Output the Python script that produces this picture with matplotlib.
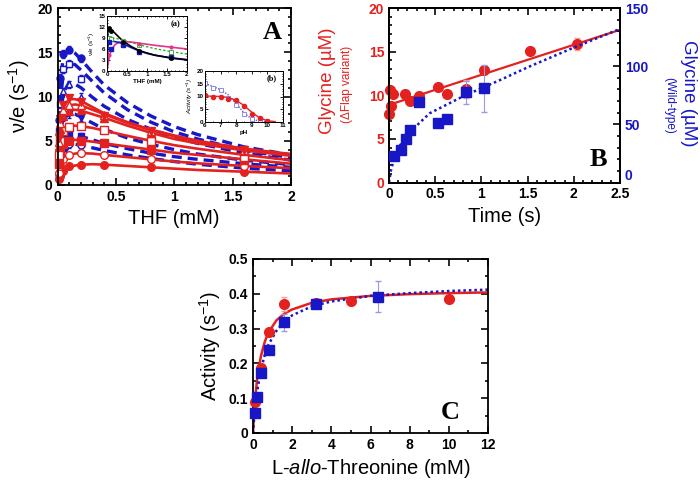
import matplotlib
matplotlib.use('Agg')
import matplotlib.pyplot as plt
from matplotlib.ticker import AutoMinorLocator

plt.rcParams['font.family'] = ['Liberation Sans', 'DejaVu Sans']
plt.rcParams['mathtext.fontset'] = 'custom'
plt.rcParams['mathtext.rm'] = 'Liberation Sans'
plt.rcParams['mathtext.it'] = 'Liberation Sans:italic'
plt.rcParams['mathtext.bf'] = 'Liberation Sans:bold'

RED = '#e3221f'
BLUE = '#1717c8'

# ---- panel A : THF dependence ----
thf_pts = [0.0125, 0.025, 0.05, 0.1, 0.2, 0.4, 0.8, 1.6]
thf_fit = [0, 0.0125, 0.025, 0.05, 0.1, 0.15, 0.2, 0.3, 0.4, 0.6, 0.8, 1.0, 1.2, 1.6, 2.0]

red_v1 = [0.7, 1.0, 1.6, 2.1, 2.3, 2.3, 2.0, 1.5]
red_v2 = [1.3, 2.1, 2.9, 3.4, 3.6, 3.4, 2.9, 2.1]
red_v3 = [2.4, 3.6, 4.6, 5.0, 5.0, 4.7, 4.0, 2.8]
red_v4 = [3.4, 5.0, 6.1, 6.6, 6.7, 6.2, 5.0, 3.2]
red_v5 = [4.4, 6.3, 7.8, 8.4, 8.5, 7.6, 5.9, 3.8]
red_v6 = [4.9, 7.0, 8.5, 9.0, 9.0, 7.9, 6.1, 3.9]
red_v7 = [5.3, 7.5, 9.0, 9.8, 9.4, 7.8, 6.1, 4.0]

red_fit1 = [0, 0.6, 1.0, 1.5, 2.0, 2.2, 2.3, 2.35, 2.3, 2.15, 2.0, 1.85, 1.7, 1.5, 1.3]
red_fit2 = [0, 1.2, 2.0, 2.8, 3.35, 3.55, 3.6, 3.55, 3.4, 3.15, 2.9, 2.65, 2.45, 2.15, 1.9]
red_fit3 = [0, 2.3, 3.5, 4.5, 5.0, 5.1, 5.05, 4.9, 4.7, 4.35, 4.0, 3.65, 3.4, 2.9, 2.4]
red_fit4 = [0, 3.2, 4.8, 6.0, 6.6, 6.7, 6.65, 6.45, 6.15, 5.55, 5.0, 4.5, 4.1, 3.4, 2.8]
red_fit5 = [0, 4.2, 6.2, 7.7, 8.4, 8.5, 8.4, 8.0, 7.6, 6.7, 5.9, 5.2, 4.7, 3.9, 3.3]
red_fit6 = [0, 4.7, 6.8, 8.3, 9.0, 9.1, 9.0, 8.5, 8.0, 7.0, 6.2, 5.5, 4.9, 4.05, 3.4]
red_fit7 = [0, 5.1, 7.3, 8.9, 9.7, 9.7, 9.5, 8.8, 8.1, 7.1, 6.25, 5.6, 5.0, 4.1, 3.5]

blue_pts = [0.0125, 0.025, 0.05, 0.1, 0.2]
blue_v1 = [7.4, 12.1, 14.8, 15.3, 14.3]
blue_v2 = [6.1, 9.1, 13.1, 13.7, 12.0]
blue_v3 = [4.9, 7.4, 10.6, 11.4, 10.0]
blue_v4 = [3.8, 6.1, 7.6, 8.0, 7.6]
blue_v5 = [2.6, 4.4, 5.4, 5.8, 5.5]
blue_v6 = [1.1, 2.2, 3.5, 4.6, 4.5]

blue_fit1 = [0, 7.6, 11.6, 14.6, 15.3, 14.9, 14.2, 12.7, 11.3, 9.3, 7.8, 6.6, 5.7, 4.3, 3.4]
blue_fit2 = [0, 6.0, 9.5, 12.7, 13.8, 13.6, 13.0, 11.7, 10.4, 8.5, 7.1, 6.0, 5.2, 3.9, 3.1]
blue_fit3 = [0, 4.8, 7.7, 10.4, 11.6, 11.4, 11.0, 9.9, 8.9, 7.4, 6.3, 5.4, 4.7, 3.6, 2.8]
blue_fit4 = [0, 3.6, 5.8, 7.4, 8.1, 8.0, 7.7, 7.0, 6.3, 5.3, 4.6, 4.0, 3.5, 2.8, 2.3]
blue_fit5 = [0, 2.5, 4.1, 5.3, 5.8, 5.7, 5.5, 5.1, 4.7, 4.1, 3.6, 3.2, 2.9, 2.4, 2.0]
blue_fit6 = [0, 1.2, 2.2, 3.4, 4.4, 4.6, 4.5, 4.2, 3.9, 3.4, 3.0, 2.65, 2.35, 1.9, 1.6]

# inset (a)
ia_fit_x = [0, 0.02, 0.05, 0.1, 0.2, 0.3, 0.4, 0.6, 0.8, 1.0, 1.2, 1.6, 2.0]
ia_black = [0, 10.5, 11.6, 11.4, 10.3, 9.2, 8.2, 6.7, 5.6, 4.9, 4.3, 3.6, 3.1]
ia_blue = [0, 7.0, 8.0, 8.2, 8.0, 7.8, 7.4, 6.4, 5.5, 4.8, 4.3, 3.5, 3.0]
ia_magenta = [0, 1.5, 3.5, 5.5, 7.2, 7.8, 8.0, 7.9, 7.6, 7.3, 7.0, 6.5, 6.0]
ia_green = [0, 6.0, 8.5, 9.0, 8.9, 8.7, 8.4, 7.8, 7.2, 6.6, 6.1, 5.3, 4.6]
ia_pts_x = [0.05, 0.1, 0.4, 0.8, 1.6]
ia_black_pts = [11.8, 11.0, 8.0, 5.4, 3.6]
ia_blue_pts = [8.0, 6.0, 7.0, 5.3, 3.8]
ia_magenta_pts = [4.5, 6.0, 7.9, 7.5, 6.5]
ia_green_pts = [9.0, 8.8, 8.3, 7.2, 5.2]

# inset (b)
ph_pts = [6, 6.5, 7, 7.5, 8, 8.5, 9, 9.5, 10]
ph_red = [10.4, 10.0, 10.0, 9.0, 8.5, 6.4, 3.3, 1.7, 0.5]
ph_blue = [15.3, 13.5, 12.5, 9.5, 6.5, 3.0, 1.0, 0.4, 0.2]
ph_fit = [6, 6.5, 7, 7.5, 8, 8.5, 9, 9.5, 10, 10.5]
ph_red_fit = [10.2, 10.1, 10.0, 9.6, 8.5, 6.5, 3.8, 1.6, 0.5, 0.15]
ph_blue_fit = [15.0, 14.0, 12.6, 10.6, 7.2, 3.6, 1.2, 0.3, 0.05, 0.0]

# ---- panel B : time course ----
t_red = [0.0, 0.01, 0.02, 0.04, 0.175, 0.225, 0.33, 0.53, 0.63, 0.83, 1.03, 1.53, 2.03]
gly_red = [7.8, 10.6, 8.8, 10.1, 10.2, 9.3, 9.9, 11.0, 10.1, 10.7, 12.9, 15.1, 15.9]
gly_red_err = [0.3, 0.3, 0.3, 0.3, 0.3, 0.3, 0.3, 0.4, 0.3, 1.0, 0.4, 0.3, 0.7]
t_blue = [0.057, 0.13, 0.18, 0.23, 0.33, 0.53, 0.63, 0.83, 1.03]
gly_blue = [23, 28, 37, 45.5, 69.5, 51, 54.5, 77.5, 81]
gly_blue_err = [1, 1, 2, 2, 2, 3, 2, 10, 20]
t_red_fit = [0, 2.5]
gly_red_fit = [8.9, 17.5]
t_blue_fit = [0, 0.02, 0.06, 0.12, 0.23, 0.44, 0.8, 1.2, 1.5, 2.0, 2.5]
gly_blue_fit = [0, 10, 22, 32, 43.7, 59.5, 74, 88, 99, 116, 132]

# ---- panel C : L-allo-threonine ----
thr_red = [0.1, 0.2, 0.4, 0.8, 1.6, 3.2, 5.0, 10.0]
act_red = [0.088, 0.104, 0.186, 0.291, 0.372, 0.374, 0.379, 0.386]
act_red_err = [0.005, 0.005, 0.008, 0.008, 0.02, 0.01, 0.01, 0.005]
thr_blue = [0.1, 0.2, 0.4, 0.8, 1.6, 3.2, 6.4]
act_blue = [0.058, 0.104, 0.171, 0.238, 0.318, 0.37, 0.392]
act_blue_err = [0.005, 0.005, 0.01, 0.008, 0.025, 0.012, 0.045]
thr_fit = [0, 0.05, 0.1, 0.2, 0.4, 0.6, 0.8, 1.2, 1.6, 2, 3, 4, 6, 8, 10, 12]
act_red_fit = [0, 0.053, 0.091, 0.150, 0.22, 0.262, 0.29, 0.324, 0.343, 0.355, 0.374, 0.384, 0.394, 0.399, 0.402, 0.404]
act_blue_fit = [0, 0.036, 0.066, 0.115, 0.181, 0.224, 0.255, 0.294, 0.32, 0.338, 0.364, 0.378, 0.394, 0.402, 0.408, 0.412]

# tick labels
a_xt = [0, 0.5, 1, 1.5, 2]
a_xl = ['0', '0.5', '1', '1.5', '2']
a_yt = [0, 5, 10, 15, 20]
b_xt = [0, 0.5, 1, 1.5, 2, 2.5]
b_xl = ['0', '0.5', '1', '1.5', '2', '2.5']
b_yt = [0, 5, 10, 15, 20]
b_yt2 = [0, 50, 100, 150]
c_xt = [0, 2, 4, 6, 8, 10, 12]
c_yt = [0, 0.1, 0.2, 0.3, 0.4, 0.5]
c_yl = ['0', '0.1', '0.2', '0.3', '0.4', '0.5']
ia_yt = [0, 3, 6, 9, 12, 15]
ib_xt = [6, 7, 8, 9, 10, 11]
ib_yt = [0, 5, 10, 15, 20]


def style(ax, minx, miny, fs=10, maj=5, mnr=2.5, lw=1.3):
    ax.xaxis.set_minor_locator(AutoMinorLocator(minx))
    ax.yaxis.set_minor_locator(AutoMinorLocator(miny))
    ax.tick_params(which='both', direction='in', top=True, right=True,
                   width=lw * 0.9, labelsize=fs)
    ax.tick_params(which='major', length=maj)
    ax.tick_params(which='minor', length=mnr)
    for s in ax.spines.values():
        s.set_linewidth(lw)
    for lab in ax.get_xticklabels() + ax.get_yticklabels():
        lab.set_fontweight('bold')


fig = plt.figure(figsize=(7, 4.82), dpi=100)
W, H = 700, 482


def box(x0, y0, x1, y1):
    return [x0 / W, 1 - y1 / H, (x1 - x0) / W, (y1 - y0) / H]


# ===== panel A =====
axA = fig.add_axes(box(57.5, 8, 291, 185))
blue_fits = [blue_fit1, blue_fit2, blue_fit3, blue_fit4, blue_fit5, blue_fit6]
blue_vals = [blue_v1, blue_v2, blue_v3, blue_v4, blue_v5, blue_v6]
blue_mk = ['o', 's', '^', 'v', 's', 'o']
blue_fill = [True, False, False, True, True, False]
for f in blue_fits:
    axA.plot(thf_fit, f, color=BLUE, lw=2.4, ls=(0, (3, 1.8)))
for v, m, fl in zip(blue_vals, blue_mk, blue_fill):
    axA.errorbar(blue_pts, v, yerr=0.4, fmt=m, ms=5, color=BLUE,
                 mfc=BLUE if fl else 'white', mec=BLUE, mew=1,
                 ecolor=BLUE, elinewidth=0.8, capsize=1.5, clip_on=False)

red_fits = [red_fit1, red_fit2, red_fit3, red_fit4, red_fit5, red_fit6, red_fit7]
red_vals = [red_v1, red_v2, red_v3, red_v4, red_v5, red_v6, red_v7]
red_mk = ['o', 'o', 's', 's', '^', '^', 'v']
red_fill = [True, False, True, False, True, False, True]
for f in red_fits:
    axA.plot(thf_fit, f, color=RED, lw=1.9)
for v, m, fl in zip(red_vals, red_mk, red_fill):
    axA.errorbar(thf_pts, v, yerr=0.25, fmt=m, ms=5.5, color=RED,
                 mfc=RED if fl else 'white', mec=RED, mew=1,
                 ecolor='#f08080', elinewidth=0.8, capsize=1.5, clip_on=False)

axA.set_xlim(0, 2)
axA.set_ylim(0, 20)
axA.set_xticks(a_xt, a_xl)
axA.set_yticks(a_yt)
style(axA, 5, 5)
axA.set_xlabel('THF (mM)', fontsize=14.5)
axA.set_ylabel('ν/e (s$^{-1}$)', fontsize=14.5, labelpad=4)
axA.text(0.92, 0.86, 'A', transform=axA.transAxes, fontsize=19,
         fontweight='bold', family='Liberation Serif', ha='center', va='center')

# inset (a)
insA = fig.add_axes(box(107, 16, 187, 71))
insA.plot(ia_fit_x, ia_green, color='#22aa22', lw=0.9, ls=(0, (2, 1.5)))
insA.plot(ia_fit_x, ia_magenta, color='#e8308c', lw=1.2)
insA.plot(ia_fit_x, ia_blue, color=BLUE, lw=1.2)
insA.plot(ia_fit_x, ia_black, color='black', lw=1.2)
insA.plot(ia_pts_x, ia_green_pts, 's', ms=2.5, mfc='white', mec='#22aa22', mew=0.6)
insA.plot(ia_pts_x, ia_magenta_pts, 'o', ms=2, color='#e8308c')
insA.plot(ia_pts_x, ia_blue_pts, 's', ms=3, color=BLUE)
insA.plot(ia_pts_x, ia_black_pts, 'o', ms=2.5, color='black')
insA.set_xlim(0, 2)
insA.set_ylim(0, 15)
insA.set_xticks(a_xt, a_xl)
insA.set_yticks(ia_yt)
style(insA, 5, 3, fs=4.5, maj=2, mnr=1, lw=0.7)
insA.tick_params(pad=1)
insA.set_xlabel('THF (mM)', fontsize=4.5, fontweight='bold', labelpad=1)
insA.set_ylabel('ν/e (s$^{-1}$)', fontsize=4.5, labelpad=1)
insA.text(0.86, 0.85, '(a)', transform=insA.transAxes, fontsize=6,
          fontweight='bold', family='Liberation Serif', ha='center', va='center')

# inset (b)
insB = fig.add_axes(box(205, 71, 283, 122))
insB.plot(ph_fit, ph_blue_fit, color='#5a5ae0', lw=1.0, ls=(0, (1, 1)))
insB.plot(ph_fit, ph_red_fit, color=RED, lw=1.0)
insB.plot(ph_pts, ph_blue, 's', ms=3, mfc='white', mec='#7a7ae8', mew=0.6)
insB.plot(ph_pts, ph_red, 'o', ms=3, color=RED)
insB.set_xlim(6, 11)
insB.set_ylim(0, 20)
insB.set_xticks(ib_xt)
insB.set_yticks(ib_yt)
style(insB, 2, 5, fs=4.5, maj=2, mnr=1, lw=0.7)
insB.tick_params(pad=1)
insB.set_xlabel('pH', fontsize=4.5, fontweight='bold', labelpad=1)
insB.set_ylabel('Activity (s$^{-1}$)', fontsize=4.5, style='italic', labelpad=1)
insB.text(0.86, 0.85, '(b)', transform=insB.transAxes, fontsize=6,
          fontweight='bold', family='Liberation Serif', ha='center', va='center')

# ===== panel B =====
axB = fig.add_axes(box(389, 8, 620, 182.5))
axB2 = axB.twinx()
axB.plot(t_red_fit, gly_red_fit, color=RED, lw=1.6)
axB.errorbar(t_red, gly_red, yerr=gly_red_err, fmt='o', ms=7, color=RED,
             ecolor='#f4a0a0', elinewidth=0.8, capsize=2, clip_on=False, zorder=3)
axB2.plot(t_blue_fit, gly_blue_fit, color=BLUE, lw=1.8, ls=(0, (1, 1.2)))
axB2.errorbar(t_blue, gly_blue, yerr=gly_blue_err, fmt='s', ms=7, color=BLUE,
              ecolor='#9a9ae0', elinewidth=0.8, capsize=2, clip_on=False, zorder=3)
axB.set_xlim(0, 2.5)
axB.set_ylim(0, 20)
axB2.set_ylim(0, 150)
axB.set_xticks(b_xt, b_xl)
axB.set_yticks(b_yt)
axB2.set_yticks(b_yt2)
style(axB, 5, 5)
axB.tick_params(which='both', right=False, axis='y', labelcolor=RED)
axB2.yaxis.set_minor_locator(AutoMinorLocator(5))
axB2.tick_params(which='both', direction='in', labelsize=10, labelcolor=BLUE, width=1.2)
axB2.tick_params(which='major', length=5)
axB2.tick_params(which='minor', length=2.5)
for lab in axB2.get_yticklabels():
    lab.set_fontweight('bold')
# lift the right-hand zero a little so it clears the "2.5" below it
axB2.get_yticklabels()[0].set_va('bottom')
for s in axB2.spines.values():
    s.set_linewidth(1.3)
axB.set_xlabel('Time (s)', fontsize=14.5)
axB.text(0.905, 0.13, 'B', transform=axB.transAxes, fontsize=19,
         fontweight='bold', family='Liberation Serif', ha='center', va='center')
fig.text(328 / W, 1 - 81 / H, 'Glycine (µM)', color=RED, fontsize=13.5,
         rotation=90, ha='center', va='center')
fig.text(347 / W, 1 - 84 / H, '(ΔFlap variant)', color=RED, fontsize=8.5,
         rotation=90, ha='center', va='center')
fig.text(688 / W, 1 - 93 / H, 'Glycine (µM)', color=BLUE, fontsize=13.5,
         rotation=-90, ha='center', va='center')
fig.text(669 / W, 1 - 105 / H, '(Wild-type)', color=BLUE, fontsize=8.5,
         rotation=-90, ha='center', va='center')

# ===== panel C =====
axC = fig.add_axes(box(253, 259, 488, 433))
axC.plot(thr_fit, act_red_fit, color=RED, lw=1.8)
axC.plot(thr_fit, act_blue_fit, color=BLUE, lw=1.8, ls=(0, (1, 1.2)))
axC.errorbar(thr_red, act_red, yerr=act_red_err, fmt='o', ms=7, color=RED,
             ecolor='#f4a0a0', elinewidth=0.8, capsize=2, clip_on=False, zorder=3)
axC.errorbar(thr_blue, act_blue, yerr=act_blue_err, fmt='s', ms=7, color=BLUE,
             ecolor='#9a9ae0', elinewidth=0.8, capsize=2, clip_on=False, zorder=3)
axC.set_xlim(0, 12)
axC.set_ylim(0, 0.5)
axC.set_xticks(c_xt)
axC.set_yticks(c_yt, c_yl)
style(axC, 2, 2)
axC.set_xlabel('L-$\\it{allo}$-Threonine (mM)', fontsize=14.5)
axC.set_ylabel('Activity (s$^{-1}$)', fontsize=14.5)
axC.text(0.84, 0.12, 'C', transform=axC.transAxes, fontsize=19,
         fontweight='bold', family='Liberation Serif', ha='center', va='center')

fig.savefig('out.png', dpi=100)
